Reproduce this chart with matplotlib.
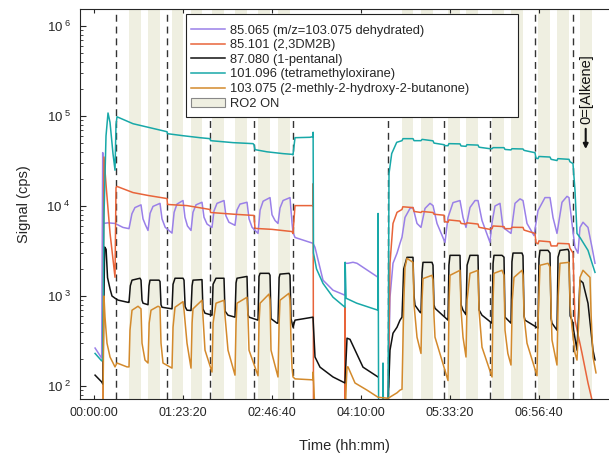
import matplotlib
matplotlib.use('Agg')
import matplotlib.pyplot as plt
from matplotlib.patches import Patch, Rectangle
import numpy as np

nan = np.nan

plt.rcParams['font.family'] = ['Liberation Sans', 'DejaVu Sans']
plt.rcParams['mathtext.fontset'] = 'custom'
plt.rcParams['mathtext.rm'] = 'Liberation Sans'

# (time in s, signal in cps)
purple = [
    (60, 264), (430, 204), (489, 39200), (520, 6400), (790, 6500), (1180, 6400), (1630, 5780), (1966, 5600),
    (2130, 8200), (2300, 9600), (2640, 10300), (2753, 7200), (2900, 6100), (3034, 5350),
    (3150, 8300), (3315, 9900), (3708, 10700), (3820, 7200), (4000, 5800), (4382, 5000),
    (4500, 8500), (4660, 10500), (5000, 11500), (5110, 7500), (5250, 6000), (5450, 5350),
    (5560, 8500), (5730, 10300), (6067, 11000), (6180, 7500), (6350, 6300), (6629, 5780),
    (6740, 8800), (6910, 10700), (7303, 11500), (7410, 7800), (7580, 6600), (7921, 6100),
    (8030, 9000), (8200, 10500), (8596, 11000), (8710, 7200), (8880, 5800), (9214, 4960),
    (9330, 9000), (9500, 11300), (9888, 12400), (10000, 8000), (10170, 6900), (10337, 6400),
    (10450, 9500), (10620, 11500), (11011, 12400), (11124, 6500), (11180, 5100), (11292, 4470),
    (12303, 3850), (12416, 3470), (12865, 1500), (13427, 1160), (14101, 1020), (14110, 2310),
    (14270, 2310), (14551, 2370), (14775, 2310), (15955, 1615), (nan, nan),
    (16517, 60), (16629, 970), (16798, 2310), (17023, 2990), (17191, 3850), (17303, 4500),
    (17472, 7460), (17753, 9400), (17921, 9630), (18146, 6400), (18371, 5780),
    (18596, 9400), (18877, 10700), (19045, 10100), (19270, 6400), (19719, 3940),
    (19888, 7460), (20169, 10900), (20562, 11500), (20731, 7460), (20899, 5780),
    (21124, 9630), (21405, 11500), (21573, 11500), (21798, 6900), (22247, 3940),
    (22360, 6500), (22528, 10000), (22809, 10700), (22977, 5780), (23427, 4960),
    (23652, 10700), (23933, 12000), (24101, 11500), (24326, 6400), (24719, 4690),
    (24944, 8900), (25337, 12400), (25618, 12400), (25787, 7460), (26011, 4960),
    (26292, 11000), (26573, 12800), (26685, 12400), (26854, 6400), (27022, 3470), (27191, 2990),
    (27303, 5780), (27472, 6600), (27753, 5780), (27978, 3470), (28146, 2310)]

orange = [
    (500, 50), (560, 35000), (700, 15000), (900, 5000), (1180, 1615), (1236, 16000), (1292, 16500),
    (2191, 14100), (3034, 13100), (4101, 12100), (4130, 10400), (5225, 10100), (6517, 9150),
    (6550, 8470), (7865, 8100), (8989, 7850), (9045, 5640), (10000, 5500), (11124, 5200),
    (11180, 4960), (11292, 10100), (12303, 10100), (12310, 17700), (12330, 50), (nan, nan),
    (14090, 50), (14101, 750), (14130, 50), (nan, nan),
    (16517, 50), (16629, 2310), (16798, 6400), (17023, 8500), (17303, 9150), (17350, 9800),
    (17921, 9600), (17980, 8700), (18371, 8470), (18420, 8700), (19045, 8470), (19100, 8100),
    (19663, 7900), (19700, 6700), (19888, 6600), (19940, 7000), (20562, 6800), (20620, 6400),
    (20899, 6300), (20950, 6500), (21573, 6300), (21630, 5800), (22247, 5500), (22360, 5600),
    (22420, 6000), (23034, 5900), (23090, 5600), (23427, 5600), (23480, 5800), (24101, 5780),
    (24160, 5400), (24775, 4960), (24830, 3900), (24944, 3800), (25000, 4100), (25618, 4000),
    (25680, 3600), (26011, 3600), (26060, 3850), (26685, 3800), (26740, 3400), (26910, 3000),
    (27022, 539), (27416, 232), (27753, 108), (27978, 70)]

black = [
    (60, 132), (430, 111), (500, 105), (540, 600), (600, 3500), (680, 3300), (760, 1600), (900, 1200),
    (1010, 1000), (1180, 945), (1350, 900), (1910, 850),
    (1966, 850), (2040, 1300), (2135, 1500), (2584, 1575), (2640, 1500), (2697, 900), (2753, 832), (3034, 800),
    (3090, 1300), (3146, 1500), (3652, 1500), (3708, 1450), (3764, 800), (3820, 750), (4382, 720),
    (4440, 1350), (4551, 1575), (5000, 1575), (5056, 1500), (5120, 760), (5225, 695), (5450, 690),
    (5510, 1300), (5562, 1500), (6067, 1520), (6120, 720), (6236, 644), (6629, 612),
    (6690, 1350), (6854, 1575), (7303, 1575), (7360, 680), (7528, 612), (7921, 582),
    (7980, 1400), (8034, 1575), (8596, 1650), (8650, 620), (8708, 582), (9214, 539),
    (9270, 1650), (9330, 1786), (9831, 1786), (9888, 1700), (9944, 560), (10281, 499), (10337, 499),
    (10400, 1600), (10449, 1750), (10955, 1786), (11011, 1700), (11070, 560), (11124, 499), (11180, 451),
    (11292, 539), (12303, 582), (12416, 210), (12697, 162), (13427, 126), (14101, 108), (14214, 340),
    (14382, 330), (15112, 162), (15955, 126), (nan, nan),
    (16517, 60), (16629, 250), (16798, 386), (17023, 450), (17191, 539), (17303, 582),
    (17400, 2000), (17584, 2690), (17921, 2690), (17980, 1000), (18034, 790), (18315, 660), (18371, 650),
    (18430, 1800), (18483, 2366), (18989, 2366), (19045, 2200), (19100, 800), (19157, 730), (19888, 539),
    (19940, 2200), (20000, 2830), (20562, 2830), (20620, 800), (20731, 695), (20899, 620),
    (20960, 2200), (21124, 2830), (21573, 2830), (21630, 700), (21798, 612), (22360, 499),
    (22420, 2300), (22472, 2830), (22921, 2830), (23034, 2700), (23090, 582), (23427, 499),
    (23480, 2400), (23540, 3000), (24045, 3000), (24101, 2800), (24160, 600), (24214, 539), (24944, 440),
    (25000, 2600), (25056, 3215), (25506, 3215), (25618, 3000), (25680, 560), (25731, 499), (26011, 417),
    (26070, 2700), (26180, 3215), (26629, 3300), (26685, 3100), (26750, 600), (26854, 539), (27135, 250),
    (27303, 1500), (27472, 1400), (27753, 830), (28034, 250), (28146, 195)]

teal = [
    (60, 230), (430, 190), (489, 200), (520, 1000), (562, 8000), (674, 60000), (787, 108000), (899, 85000),
    (1067, 38000), (1180, 25000), (1236, 80000), (1292, 98000), (2191, 82100), (3146, 74100),
    (4101, 66900), (4130, 63600), (5000, 60400), (5955, 57400), (6517, 56000), (6550, 53200),
    (7809, 50600), (8933, 49300), (8989, 48000), (9045, 42300), (9719, 40000), (10618, 38200),
    (11124, 37500), (11180, 37000), (11292, 57400), (12135, 58000), (12303, 59000), (12310, 66000),
    (12330, 3000), (12500, 2000), (12865, 1380), (13427, 970), (14101, 750), (14110, 2370),
    (14160, 945), (14759, 832), (15955, 695), (15960, 8260), (15990, 50), (nan, nan),
    (16230, 50), (16236, 180), (16260, 50), (nan, nan),
    (16517, 50), (16573, 22900), (16725, 38200), (17006, 51000), (17303, 53200), (17360, 56000),
    (17921, 56000), (17980, 53200), (18371, 53200), (18430, 55000), (19045, 53000), (19100, 50000),
    (19663, 48000), (19700, 46800), (19888, 46800), (19940, 49300), (20562, 49000), (20620, 46500),
    (20899, 46000), (20950, 48000), (21573, 47500), (21630, 45000), (22247, 43300), (22360, 43300),
    (22420, 44500), (23034, 44500), (23090, 42500), (23427, 42000), (23480, 43300), (24101, 43000),
    (24160, 41500), (24775, 39100), (24830, 34000), (24944, 33600), (25000, 35500), (25618, 35000),
    (25680, 33000), (26011, 32000), (26060, 33600), (26685, 33000), (26740, 31000), (26910, 29600),
    (27022, 14900), (27135, 4960), (27303, 4470), (27753, 3215), (28146, 1830)]

brown = [
    (500, 50), (560, 1000), (618, 582), (730, 299), (900, 210), (1067, 180), (1180, 163), (1292, 180),
    (1854, 163), (1966, 163),
    (2022, 417), (2135, 695), (2472, 769), (2640, 720), (2697, 299), (2865, 194), (3034, 180),
    (3100, 500), (3202, 695), (3596, 769), (3708, 750), (3764, 299), (3876, 180), (4382, 158),
    (4440, 450), (4551, 750), (5000, 866), (5056, 700), (5225, 299), (5450, 158),
    (5510, 500), (5562, 720), (6067, 897), (6120, 600), (6236, 250), (6629, 143),
    (6690, 500), (6854, 832), (7303, 897), (7360, 600), (7528, 250), (7921, 132),
    (7980, 500), (8034, 832), (8596, 968), (8650, 600), (8708, 250), (9214, 130),
    (9270, 500), (9330, 832), (9831, 1050), (9888, 900), (9944, 250), (10337, 126),
    (10400, 500), (10449, 897), (10955, 1072), (11011, 900), (11070, 300), (11124, 160), (11180, 126),
    (11292, 120), (12303, 117), (12310, 143), (12416, 50), (nan, nan),
    (14101, 50), (14214, 163), (14270, 163), (14663, 108), (15337, 90), (15955, 75), (16517, 73),
    (17023, 84), (17191, 90), (17303, 92),
    (17400, 800), (17472, 2085), (17584, 2620), (17921, 2366), (17980, 800), (18146, 349), (18371, 230),
    (18430, 900), (18483, 1560), (18989, 1698), (19045, 1500), (19100, 600), (19157, 349), (19888, 115),
    (19950, 900), (20000, 1698), (20562, 1930), (20620, 700), (20731, 349), (20899, 210),
    (20960, 900), (21124, 1786), (21573, 1930), (21630, 700), (21798, 270), (22360, 126),
    (22420, 900), (22472, 1786), (22921, 1930), (23034, 1700), (23090, 417), (23250, 230), (23427, 171),
    (23500, 900), (23596, 1610), (24045, 1930), (24101, 1700), (24160, 600), (24326, 299), (24888, 130),
    (24944, 500), (25056, 2193), (25506, 2309), (25618, 2100), (25680, 700), (25731, 324), (26011, 171),
    (26080, 1000), (26180, 2309), (26685, 2366), (26750, 800), (26854, 451), (27022, 232), (27135, 194),
    (27250, 600), (27303, 1610), (27472, 1930), (27865, 1610), (27930, 600), (28034, 210), (28202, 140)]

ro2_on = [(1966, 2640), (3034, 3708), (4382, 5000), (5450, 6067), (6629, 7303), (7921, 8596),
          (9214, 9888), (10337, 11011), (17303, 17921), (18371, 19045), (19888, 20562),
          (20899, 21573), (22360, 23034), (23427, 24101), (24944, 25618), (26011, 26685),
          (27303, 27978)]
dashed = [1236, 4101, 6517, 8989, 11180, 16517, 19663, 22247, 24775, 26910]

series = [
    (purple, '#9a80e8', '85.065 (m/z=103.075 dehydrated)'),
    (orange, '#e8643a', '85.101 (2,3DM2B)'),
    (black, '#111111', '87.080 (1-pentanal)'),
    (teal, '#18a8a8', '101.096 (tetramethyloxirane)'),
    (brown, '#d38a2c', '103.075 (2-methly-2-hydroxy-2-butanone)'),
]

xticks = [0, 5000, 10000, 15000, 20000, 25000]
yticks = [1e2, 1e3, 1e4, 1e5, 1e6]

tc = '#262626'
beige = '#efefe1'
fig = plt.figure(figsize=(6.09, 4.54), dpi=100)
ax = fig.add_axes([80/609, 55/454, 529/609, 390/454])

for a, b in ro2_on:
    ax.axvspan(a, b, color=beige, lw=0, zorder=0)
for t in dashed:
    ax.axvline(t, color='#333333', ls=(0, (5, 3.5)), lw=1.0, zorder=1)

handles = []
for data, col, lab in series:
    arr = np.array(data, dtype=float)
    h, = ax.plot(arr[:, 0], arr[:, 1], color=col, lw=1.1, label=lab, zorder=2)
    handles.append(h)
handles.append(Patch(facecolor=beige, edgecolor='#888888', lw=0.8, label='RO2 ON'))

ax.set_yscale('log')
ax.set_xlim(-787, 28933)
ax.set_ylim(71.7, 1.545e6)

def hms(s):
    return '%02d:%02d:%02d' % (s // 3600, (s % 3600) // 60, s % 60)

ax.set_xticks(xticks)
ax.set_xticklabels([hms(s) for s in xticks])
ax.set_yticks(yticks)
ax.set_yticklabels(['10$\\,^{%d}$' % int(np.log10(v)) for v in yticks])
ax.tick_params(axis='both', which='both', direction='in', colors=tc, labelsize=9, top=True)
ax.tick_params(axis='y', which='major', length=4, pad=7, labelsize=9.5)
ax.tick_params(axis='y', which='minor', length=2)
ax.tick_params(axis='x', which='major', length=3, pad=6)
for sp in ax.spines.values():
    sp.set_color(tc)
    sp.set_linewidth(0.8)
ax.spines['right'].set_visible(False)

ax.set_xlabel('Time (hh:mm)', fontsize=10.5, color=tc, labelpad=14)
ax.set_ylabel('Signal (cps)', fontsize=10.5, color=tc, labelpad=11)

# legend box drawn separately (MATLAB style leaves extra room on the right)
frame = Rectangle((186/609, (454-117)/454), 332/609, 103/454, transform=fig.transFigure,
                  facecolor='white', edgecolor='#222222', lw=0.8, zorder=3)
fig.patches.append(frame)
leg = fig.legend(handles=handles, loc='upper left', bbox_to_anchor=(188/609, (454-22)/454),
                 fontsize=9.3, frameon=False, handlelength=2.7, handletextpad=0.35,
                 labelspacing=0.2, borderpad=0.2, borderaxespad=0)
leg.set_zorder(4)
for txt in leg.get_texts():
    txt.set_color(tc)

ax.text(27680, 2.0e5, '0=[Alkene]', rotation=90, ha='center', va='center',
        fontsize=10.5, color='#111111')
ax.annotate('', xy=(27624, 4.3e4), xytext=(27624, 7.2e4),
            arrowprops=dict(arrowstyle='-|>', color='#111111', lw=1.5, mutation_scale=7,
                            shrinkA=0, shrinkB=0))

fig.savefig('out.png', dpi=100)
